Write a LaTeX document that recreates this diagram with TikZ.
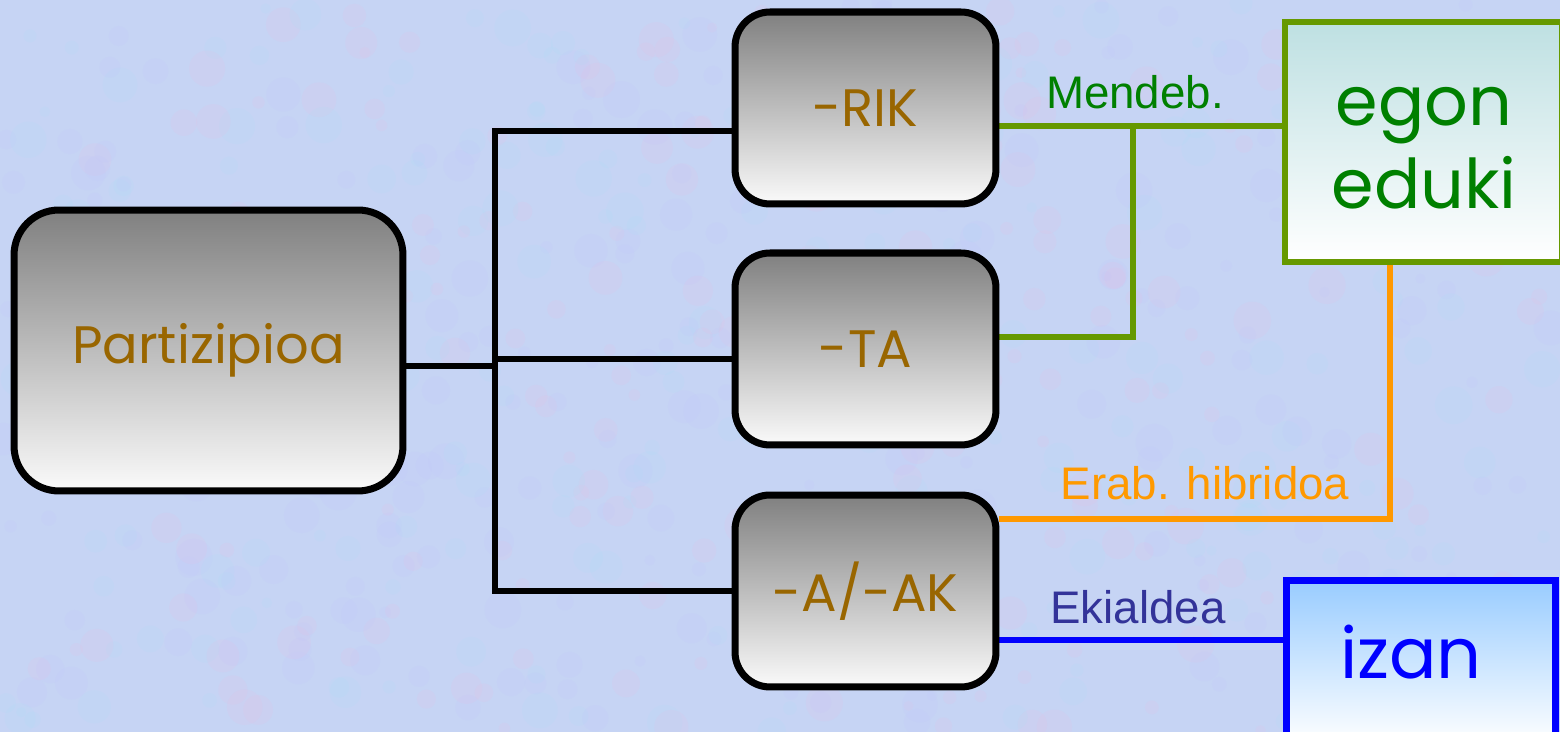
\documentclass[tikz,border=0pt]{standalone}
\usepackage{fontspec}
\newfontfamily\labelfont{Liberation Sans}
\newfontfamily\boxfont{Poppins}
\usetikzlibrary{calc}
\definecolor{bgblue}{RGB}{198,212,244}
\definecolor{brownt}{RGB}{153,102,0}
\definecolor{olivel}{RGB}{102,153,0}
\definecolor{greent}{RGB}{0,128,0}
\definecolor{orangel}{RGB}{255,153,0}
\definecolor{navyt}{RGB}{51,51,153}
\definecolor{bluel}{RGB}{0,0,255}
\definecolor{tealtop}{RGB}{190,224,226}
\definecolor{skytop}{RGB}{153,204,255}
\definecolor{graytop}{RGB}{128,128,128}
\definecolor{graybot}{RGB}{250,250,250}
\pgfdeclarelayer{bglayer}
\pgfdeclarelayer{lines}
\pgfsetlayers{bglayer,lines,main}
\tikzset{
  graybox/.style={draw=black, line width=4pt, top color=graytop, bottom color=graybot,
    text=brownt, font=\boxfont\fontsize{30}{36}\selectfont, inner sep=0pt},
  bigbox/.style={graybox, rounded corners=0.9cm, minimum width=7.78cm, minimum height=5.62cm},
  smallbox/.style={graybox, rounded corners=0.7cm, minimum width=5.22cm, minimum height=3.84cm},
  blackline/.style={line width=3.4pt, black},
  greenline/.style={line width=3pt, olivel},
  orangeline/.style={line width=3pt, orangel},
  blueline/.style={line width=3pt, bluel},
  lbl/.style={font=\labelfont\fontsize{26}{30}\selectfont, inner sep=0pt},
}
\begin{document}
\begin{tikzpicture}[x=0.02cm, y=-0.02cm]
\useasboundingbox (0,0) rectangle (1560,732);
\clip (0,0) rectangle (1560,732);
\begin{pgfonlayer}{bglayer}
\fill[bgblue] (0,0) rectangle (1560,732);
\pgfmathsetseed{7}
\foreach \i in {1,...,700} {
  \pgfmathsetmacro{\xx}{rnd*1560}
  \pgfmathsetmacro{\yy}{rnd*732}
  \pgfmathsetmacro{\rr}{5+rnd*14}
  \pgfmathsetmacro{\cc}{rnd}
  \ifdim\cc pt<0.33pt
    \fill[magenta!30!white, opacity=0.10] (\xx,\yy) circle[radius=\rr];
  \else\ifdim\cc pt<0.66pt
    \fill[cyan!35!white, opacity=0.12] (\xx,\yy) circle[radius=\rr];
  \else
    \fill[blue!25!white, opacity=0.10] (\xx,\yy) circle[radius=\rr];
  \fi\fi
}
\end{pgfonlayer}

\node[bigbox] (P) at (208.5,350.5) {Partizipioa};
\node[smallbox] (RIK) at (865.5,108) {-RIK};
\node[smallbox] (TA) at (865.5,349) {-TA};
\node[smallbox] (AK) at (865.5,591) {-A/-AK};

\node[draw=olivel, line width=3.6pt, top color=tealtop, bottom color=white,
  minimum width=5.54cm, minimum height=4.8cm, inner sep=0pt] (egon) at (1423.5,142) {};
\node[text=greent, font=\boxfont\fontsize{39}{47}\selectfont, align=center, inner sep=0pt]
  (egontxt) at (1424,148) {egon\\eduki};

\node[draw=bluel, line width=4pt, top color=skytop, bottom color=white,
  minimum width=5.4cm, minimum height=3.3cm, inner sep=0pt] (izan) at (1421,663) {};
\node[text=bluel, font=\boxfont\fontsize{40}{48}\selectfont, inner sep=0pt]
  (izantxt) at (1411,652) {izan};

\coordinate (j) at (497,366);
\coordinate (bt) at (495,131);
\coordinate (bb) at (495,591);
\coordinate (tm) at (495,359);
\coordinate (g1) at (1133,126);
\coordinate (g2) at (1133,337);
\coordinate (o1) at (1390,519);
\coordinate (b1) at (1283,640);

\begin{pgfonlayer}{lines}
\draw[blackline] (P.east |- j) -- (j);
\draw[blackline, line cap=rect] (RIK.west |- bt) -- (bt) -- (bb) -- (AK.west |- bb);
\draw[blackline] (tm) -- (TA.west |- tm);
\draw[greenline] (RIK.east |- g1) -- (egon.west |- g1);
\draw[greenline] (TA.east |- g2) -- (g2) -- (g1);
\draw[orangeline] (AK.east |- o1) -- (o1) -- (o1 |- egon.south);
\draw[blueline] (AK.east |- b1) -- (izan.west |- b1);
\end{pgfonlayer}

\node[lbl, text=greent] (l1) at (1135,92) {Mendeb.};
\node[lbl, text=orangel] (l2) at (1205,483) {Erab. hibridoa};
\node[lbl, text=navyt] (l3) at (1138,607) {Ekialdea};
\end{tikzpicture}
\end{document}
